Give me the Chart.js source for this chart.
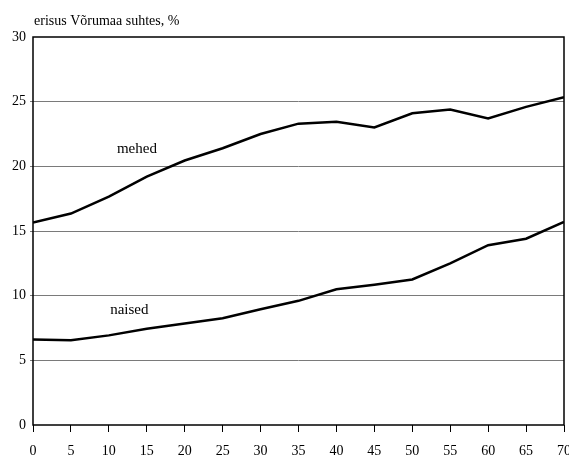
<!DOCTYPE html>
<html lang="et">
<head>
  <meta charset="UTF-8">
  <title>erisus Võrumaa suhtes</title>
  <script src="https://cdn.jsdelivr.net/npm/chart.js"></script>
  <style>
    html, body { margin: 0; padding: 0; background: #fff; }
    #wrap { width: 569px; height: 456px; }
  </style>
</head>
<body>
  <div id="wrap"><canvas id="myChart"></canvas></div>

  <script>
    // data
    const xValues = [0, 5, 10, 15, 20, 25, 30, 35, 40, 45, 50, 55, 60, 65, 70];
    const mehed = [15.65, 16.35, 17.65, 19.2, 20.45, 21.4, 22.5, 23.3, 23.45, 23.0, 24.1, 24.4, 23.7, 24.6, 25.35];
    const naised = [6.62, 6.55, 6.93, 7.45, 7.85, 8.25, 8.95, 9.6, 10.5, 10.85, 11.25, 12.5, 13.9, 14.4, 15.7];
    const seriesNames = ['mehed', 'naised'];
    const axisTitle = 'erisus Võrumaa suhtes, %';

    const serif = "'Liberation Serif', 'Times New Roman', serif";

    function toPoints(vals) {
      return vals.map((v, i) => ({ x: xValues[i], y: v }));
    }

    // frame, series labels and axis caption
    const decorations = {
      id: 'decorations',
      afterDraw(chart) {
        const ctx = chart.ctx;
        const a = chart.chartArea;
        const xs = chart.scales.x;
        const ys = chart.scales.y;
        ctx.save();
        ctx.strokeStyle = '#000';
        ctx.lineWidth = 1.5;
        ctx.strokeRect(a.left, a.top, a.right - a.left, a.bottom - a.top);

        ctx.fillStyle = '#000';
        ctx.font = '15px ' + serif;
        ctx.textAlign = 'center';
        ctx.textBaseline = 'middle';
        ctx.fillText(seriesNames[0], xs.getPixelForValue(13.7), ys.getPixelForValue(21.3));
        ctx.fillText(seriesNames[1], xs.getPixelForValue(12.7), ys.getPixelForValue(8.85));

        ctx.font = '14px ' + serif;
        ctx.textAlign = 'left';
        ctx.textBaseline = 'middle';
        ctx.fillText(axisTitle, a.left + 1, 21);
        ctx.restore();
      }
    };

    const ctx = document.getElementById('myChart').getContext('2d');
    new Chart(ctx, {
      type: 'line',
      data: {
        datasets: [
          {
            label: seriesNames[0],
            data: toPoints(mehed),
            borderColor: '#000',
            borderWidth: 2.5,
            pointRadius: 0,
            tension: 0,
          },
          {
            label: seriesNames[1],
            data: toPoints(naised),
            borderColor: '#000',
            borderWidth: 2.5,
            pointRadius: 0,
            tension: 0,
          },
        ],
      },
      options: {
        responsive: true,
        maintainAspectRatio: false,
        animation: false,
        layout: { padding: { top: 37, right: 5, left: 0, bottom: 0 } },
        plugins: {
          legend: { display: false },
          tooltip: { enabled: false },
        },
        scales: {
          x: {
            type: 'linear',
            min: 0,
            max: 70,
            border: { display: false },
            grid: {
              drawOnChartArea: false,
              tickLength: 7,
              color: '#000',
              lineWidth: 1,
            },
            ticks: {
              stepSize: 5,
              color: '#000',
              padding: 11,
              maxRotation: 0,
              font: { family: serif, size: 14 },
            },
            afterFit(scale) {
              scale.height = 31;
              scale.paddingLeft = 0;
              scale.paddingRight = 0;
            },
          },
          y: {
            min: 0,
            max: 30,
            border: { display: false },
            grid: {
              color: (c) => (c.tick.value === 0 || c.tick.value === 30) ? 'rgba(0,0,0,0)' : '#7a7a7a',
              lineWidth: 1,
              tickLength: 3,
            },
            ticks: {
              stepSize: 5,
              color: '#000',
              padding: 4,
              font: { family: serif, size: 14 },
            },
            afterFit(scale) {
              scale.width = 33;
              scale.paddingTop = 0;
              scale.paddingBottom = 0;
            },
          },
        },
      },
      plugins: [decorations],
    });
  </script>
</body>
</html>
